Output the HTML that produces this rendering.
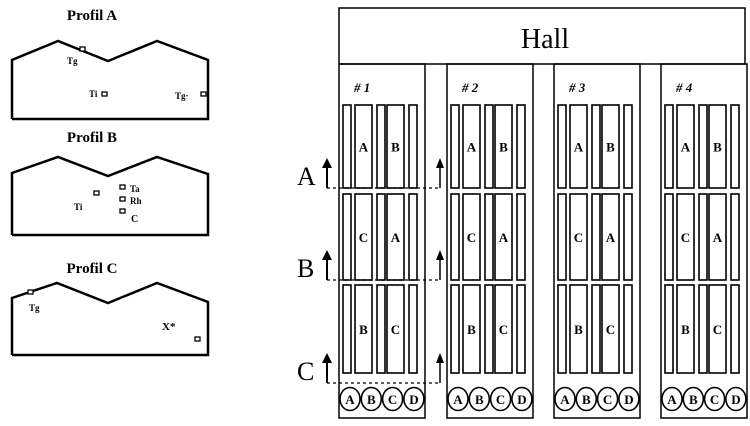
<!DOCTYPE html>
<html><head><meta charset="utf-8"><style>
body{margin:0;background:#fff}
svg{display:block}
text{font-family:"Liberation Serif",serif;fill:#000}
</style></head><body>
<svg id="s" width="750" height="426" viewBox="0 0 750 426">
<g>
<text x="92" y="20" font-size="15" font-weight="bold" text-anchor="middle">Profil A</text>
<polyline points="12,119 12,60 58,41 108,61 157,41 208,60 208,119 12,119" fill="none" stroke="#000" stroke-width="2.5"/>
<rect x="80" y="47" width="5" height="4" fill="#fff" stroke="#000" stroke-width="1.3"/>
<text x="67" y="64" font-size="9" font-weight="bold">Tg</text>
<text x="89" y="97" font-size="9" font-weight="bold">Ti</text>
<rect x="102" y="92" width="5" height="4" fill="#fff" stroke="#000" stroke-width="1.3"/>
<text x="175" y="99" font-size="9" font-weight="bold">Tg·</text>
<rect x="201" y="92" width="5" height="4" fill="#fff" stroke="#000" stroke-width="1.3"/>
</g>
<g>
<text x="92" y="142" font-size="15" font-weight="bold" text-anchor="middle">Profil B</text>
<polyline points="12,235 12,173 58,157 108,176 157,157 208,174 208,235 12,235" fill="none" stroke="#000" stroke-width="2.5"/>
<rect x="94" y="191" width="5" height="4" fill="#fff" stroke="#000" stroke-width="1.3"/>
<text x="74" y="210" font-size="9" font-weight="bold">Ti</text>
<rect x="120" y="185" width="5" height="4" fill="#fff" stroke="#000" stroke-width="1.3"/>
<text x="130" y="192" font-size="9" font-weight="bold">Ta</text>
<rect x="120" y="197" width="5" height="4" fill="#fff" stroke="#000" stroke-width="1.3"/>
<text x="130" y="204" font-size="9" font-weight="bold">Rh</text>
<rect x="120" y="209" width="5" height="4" fill="#fff" stroke="#000" stroke-width="1.3"/>
<text x="131" y="222" font-size="10" font-weight="bold">C</text>
</g>
<g>
<text x="92" y="273" font-size="15" font-weight="bold" text-anchor="middle">Profil C</text>
<polyline points="12,355 12,298 57,283 108,303 157,283 208,302 208,355 12,355" fill="none" stroke="#000" stroke-width="2.5"/>
<rect x="28" y="290" width="5" height="4" fill="#fff" stroke="#000" stroke-width="1.3"/>
<text x="29" y="311" font-size="9" font-weight="bold">Tg</text>
<text x="162" y="330" font-size="11" font-weight="bold">X*</text>
<rect x="195" y="337" width="5" height="4" fill="#fff" stroke="#000" stroke-width="1.3"/>
</g>
<g>
<rect x="339" y="8" width="406" height="56" fill="#fff" stroke="#000" stroke-width="1.5"/>
<text x="545" y="48" font-size="28" text-anchor="middle">Hall</text>
</g>
<g id="rooms"></g>
<g id="marks"></g>
</svg>
<script>
const roomNames = ['# 1','# 2','# 3','# 4'];
const roomX = [339, 447, 554, 661];
const rowLetters = [['A','B'],['C','A'],['B','C']];
const rowY = [[105,188],[194,280],[285,373]];
const circles = ['A','B','C','D'];
const ns = 'http://www.w3.org/2000/svg';
function mk(tag, a, p){const e=document.createElementNS(ns,tag);for(const k in a)e.setAttribute(k,a[k]);p.appendChild(e);return e;}
const R = document.getElementById('rooms');
roomX.forEach((x0,i)=>{
  const g = mk('g',{},R);
  
  
  mk('rect',{x:x0,y:64,width:86,height:354,fill:'none',stroke:'#000','stroke-width':1.5},g);
  const t = mk('text',{x:x0+15,y:92,'font-size':13,'font-style':'italic','font-weight':'bold'},g);
  t.textContent = roomNames[i];
  const cols = [[4,8,'n'],[16,17,'w'],[38,8,'n'],[48,17,'w'],[70,8,'n']];
  rowY.forEach((ry,r)=>{
    cols.forEach((c,ci)=>{
      mk('rect',{x:x0+c[0],y:ry[0],width:c[1],height:ry[1]-ry[0],fill:'#fff',stroke:'#000','stroke-width':1.6},g);
    });
    [1,3].forEach((ci,k)=>{
      const tx = mk('text',{x:x0+cols[ci][0]+cols[ci][1]/2,y:(ry[0]+ry[1])/2+5,'font-size':13,'font-weight':'bold','text-anchor':'middle'},g);
      tx.textContent = rowLetters[r][k];
    });
  });
  circles.forEach((c,k)=>{
    const cx = x0+11+k*21.3;
    mk('ellipse',{cx:cx,cy:399,rx:10,ry:11.5,fill:'#fff',stroke:'#000','stroke-width':1.6},g);
    const tx = mk('text',{x:cx,y:404,'font-size':13,'font-weight':'bold','text-anchor':'middle'},g);
    tx.textContent = c;
  });
});
const M = document.getElementById('marks');
const secLabels = ['A','B','C'];
const secY = [188,280,383];
secLabels.forEach((s,i)=>{
  const g = mk('g',{},M);
  
  
  const y = secY[i];
  const t = mk('text',{x:297,y:y-3,'font-size':26},g);
  t.textContent = s;
  mk('line',{x1:327,y1:y,x2:327,y2:y-24,stroke:'#000','stroke-width':2},g);
  mk('polygon',{points:`322,${y-20} 327,${y-30} 332,${y-20}`,fill:'#000'},g);
  mk('line',{x1:327,y1:y,x2:438,y2:y,stroke:'#000','stroke-width':1.3,'stroke-dasharray':'3,3'},g);
  mk('line',{x1:440,y1:y,x2:440,y2:y-24,stroke:'#000','stroke-width':1.5},g);
  mk('polygon',{points:`436,${y-20} 440,${y-30} 444,${y-20}`,fill:'#000'},g);
});
</script>
</body></html>
